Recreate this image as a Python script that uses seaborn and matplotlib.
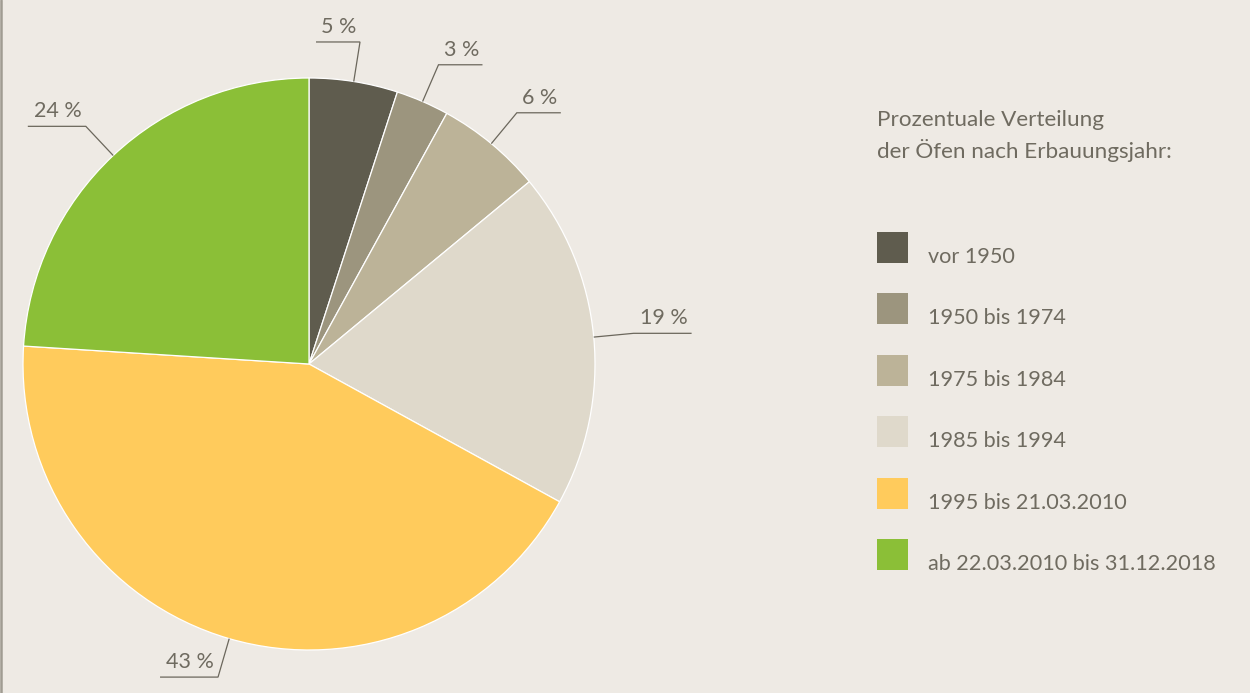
import numpy as np
import matplotlib
matplotlib.use("Agg")
import matplotlib.pyplot as plt
import seaborn as sns
from matplotlib.patches import Rectangle

# ---- data ----
categories = ["vor 1950", "1950 bis 1974", "1975 bis 1984", "1985 bis 1994",
              "1995 bis 21.03.2010", "ab 22.03.2010 bis 31.12.2018"]
shares = [5, 3, 6, 19, 43, 24]
value_labels = ["5 %", "3 %", "6 %", "19 %", "43 %", "24 %"]
colors = ["#5F5C4E", "#9C957E", "#BCB398", "#DFD9CB", "#FFCB5C", "#8BBF37"]
title_lines = ["Prozentuale Verteilung", "der Öfen nach Erbauungsjahr:"]

# ---- style ----
BG = "#EEEAE4"
TXT = "#6F6B60"
LINE = "#6B675C"
leader_dirs = [-1, 1, 1, 1, -1, -1]

sns.set_theme(style="white")
plt.rcParams['font.family'] = ['Lato', 'DejaVu Sans']

W, H = 1250, 693
fig = plt.figure(figsize=(12.5, 6.93), dpi=100, facecolor=BG)
ax = fig.add_axes([0, 0, 1, 1])
ax.set_facecolor(BG)

cx, cy, R = 309, H - 364, 286
wedges, _ = ax.pie(shares, colors=colors, startangle=90, counterclock=False,
                   radius=R, center=(cx, cy),
                   wedgeprops=dict(edgecolor="white", linewidth=0.9))
ax.set_xlim(0, W)
ax.set_ylim(0, H)
ax.set_aspect("equal")
ax.axis("off")

# leader lines + value labels
for w, lab, d in zip(wedges, value_labels, leader_dirs):
    th = np.deg2rad((w.theta1 + w.theta2) / 2)
    x0, y0 = cx + R * np.cos(th), cy + R * np.sin(th)
    x1, y1 = cx + 1.14 * R * np.cos(th), cy + 1.14 * R * np.sin(th)
    L = 44 if len(lab) <= 3 else 58
    x2 = x1 + d * L
    ax.plot([x0, x1, x2], [y0, y1, y1], color=LINE, lw=0.9,
            solid_joinstyle="miter", solid_capstyle="butt")
    ax.text((x1 + x2) / 2 + 1, y1 + 9, lab, ha="center", va="baseline",
            fontsize=15.5, color=TXT)

# legend title
ax.text(877, H - 126, title_lines[0], ha="left", va="baseline", fontsize=16.2,
        color=TXT)
ax.text(877, H - 158, title_lines[1], ha="left", va="baseline", fontsize=16.2,
        color=TXT)

# legend entries
for i, (cat, col) in enumerate(zip(categories, colors)):
    top = 232 + i * 61.4
    ax.add_patch(Rectangle((877, H - top - 31), 31, 31, facecolor=col, edgecolor="none"))
    ax.text(928, H - top - 31, cat, ha="left", va="baseline", fontsize=15.6,
            color=TXT)

# left border line
ax.plot([1, 1], [0, H], color="#A09C92", lw=1.8)

fig.savefig("out.png", dpi=100, facecolor=BG)
